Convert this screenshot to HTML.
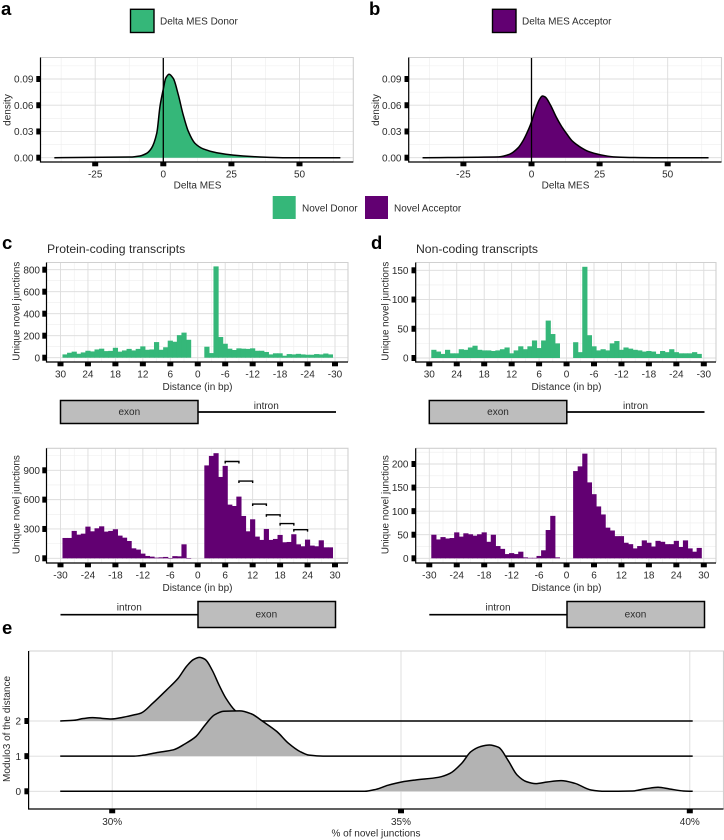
<!DOCTYPE html>
<html lang="en">
<head>
<meta charset="utf-8">
<title>Novel junction distance and MES figure</title>
<style>
  html, body { margin: 0; padding: 0; background: #fff; }
  #figure { display: block; width: 724px; height: 840px; font-family: "Liberation Sans", Arial, sans-serif; filter: blur(0.3px); }
  text { font-family: "Liberation Sans", Arial, sans-serif; fill: #2b2b2b; font-size: 10px; }
  .letter { font-size: 18.5px; font-weight: bold; fill: #000; }
  .title { font-size: 12.2px; }
</style>
</head>
<body>
<svg id="figure" xmlns="http://www.w3.org/2000/svg" width="724" height="840" viewBox="0 0 724 840">
  <rect x="0" y="0" width="724" height="840" fill="#fff"/>

  <text class="letter" x="1" y="15">a</text>
  <text class="letter" x="369" y="15">b</text>
  <text class="letter" x="2" y="249">c</text>
  <text class="letter" x="371" y="249">d</text>
  <text class="letter" x="2" y="634">e</text>

  <rect x="130.5" y="9.3" width="23.5" height="23.2" fill="#35b779" stroke="#000" stroke-width="1.4"/>
  <text x="160" y="24.5">Delta MES Donor</text>
  <rect x="492.5" y="9.3" width="23.5" height="23.2" fill="#620072" stroke="#000" stroke-width="1.4"/>
  <text x="522" y="24.5">Delta MES Acceptor</text>

  <rect x="272.7" y="196" width="23" height="23" fill="#35b779"/>
  <text x="302" y="211.5">Novel Donor</text>
  <rect x="365" y="196" width="23" height="23" fill="#620072"/>
  <text x="394" y="211.5">Novel Acceptor</text>

  <text class="title" x="47" y="253">Protein-coding transcripts</text>
  <text class="title" x="416" y="253">Non-coding transcripts</text>

  <g>
    <line x1="198" y1="412" x2="336" y2="412" stroke="#000" stroke-width="1.7"/>
    <rect x="60.5" y="400.5" width="137.5" height="23" fill="#bdbdbd" stroke="#000" stroke-width="1.5"/>
    <text x="129.3" y="415" text-anchor="middle">exon</text>
    <text x="266.3" y="409" text-anchor="middle">intron</text>
  </g>
  <g>
    <line x1="567" y1="412" x2="704.5" y2="412" stroke="#000" stroke-width="1.7"/>
    <rect x="429.3" y="400.5" width="137.5" height="23" fill="#bdbdbd" stroke="#000" stroke-width="1.5"/>
    <text x="498" y="415" text-anchor="middle">exon</text>
    <text x="635.5" y="409" text-anchor="middle">intron</text>
  </g>
  <g>
    <line x1="60.5" y1="614.7" x2="198" y2="614.7" stroke="#000" stroke-width="1.7"/>
    <rect x="198" y="601.5" width="137.5" height="26" fill="#bdbdbd" stroke="#000" stroke-width="1.5"/>
    <text x="129.3" y="610.5" text-anchor="middle">intron</text>
    <text x="266.3" y="617.5" text-anchor="middle">exon</text>
  </g>
  <g>
    <line x1="429.3" y1="614.7" x2="567" y2="614.7" stroke="#000" stroke-width="1.7"/>
    <rect x="567" y="601.5" width="137.5" height="26" fill="#bdbdbd" stroke="#000" stroke-width="1.5"/>
    <text x="498" y="610.5" text-anchor="middle">intron</text>
    <text x="635.5" y="617.5" text-anchor="middle">exon</text>
  </g>
</svg>

<script>
// ---------- Panel a / b data (Delta MES density) ----------
const donorMes = [-40, -12.2, -8.6, -6.1, -4.3, -2.4, -1.2, 0, 0.9, 2.1, 3.7, 5.5, 7.3, 9.2, 11.6, 14.7, 19.6, 25.7, 33, 37.9, 45, 65];
const donorDensity = [0, 0.0008, 0.002, 0.005, 0.011, 0.028, 0.059, 0.0785, 0.091, 0.0955, 0.0905, 0.072, 0.049, 0.03, 0.0165, 0.01, 0.0057, 0.003, 0.0012, 0.0005, 0, 0];
const acceptorMes = [-40, -12, -8, -5, -3, -1, 0, 1.5, 3, 4, 5, 7, 9, 11, 13, 15, 18, 21, 25, 30, 36, 45, 65];
const acceptorDensity = [0, 0.001, 0.004, 0.011, 0.02, 0.033, 0.041, 0.056, 0.067, 0.0705, 0.0695, 0.06, 0.047, 0.036, 0.027, 0.019, 0.012, 0.007, 0.0035, 0.001, 0.0003, 0, 0];
const mesTicks = [-25, 0, 25, 50];
const mesMinorTicks = [-37.5, -12.5, 12.5, 37.5, 62.5];
const densityTicks = [0, 0.03, 0.06, 0.09];
const densityTickLabels = ["0.00", "0.03", "0.06", "0.09"];
const densityMinorTicks = [0.015, 0.045, 0.075, 0.105];

// ---------- Panel c / d data (histograms) ----------
const donorDistances = [29, 28, 27, 26, 25, 24, 23, 22, 21, 20, 19, 18, 17, 16, 15, 14, 13, 12, 11, 10, 9, 8, 7, 6, 5, 4, 3, 2, -2, -3, -4, -5, -6, -7, -8, -9, -10, -11, -12, -13, -14, -15, -16, -17, -18, -19, -20, -21, -22, -23, -24, -25, -26, -27, -28, -29];
const acceptorDistances = [-29, -28, -27, -26, -25, -24, -23, -22, -21, -20, -19, -18, -17, -16, -15, -14, -13, -12, -11, -10, -9, -8, -7, -6, -5, -4, -3, -2, 2, 3, 4, 5, 6, 7, 8, 9, 10, 11, 12, 13, 14, 15, 16, 17, 18, 19, 20, 21, 22, 23, 24, 25, 26, 27, 28, 29];
const codingDonorCounts = [30, 45, 55, 36, 48, 63, 57, 75, 82, 60, 62, 90, 55, 66, 80, 66, 80, 103, 72, 75, 142, 72, 95, 155, 145, 205, 228, 163, 100, 42, 830, 188, 127, 82, 70, 85, 82, 80, 85, 63, 63, 52, 30, 40, 40, 18, 33, 30, 35, 30, 27, 27, 33, 30, 38, 30];
const noncodingDonorCounts = [14, 11, 7, 14, 8, 8, 15, 14, 18, 21, 14, 13, 13, 12, 13, 15, 18, 8, 13, 20, 15, 20, 30, 17, 30, 64, 41, 25, 27, 10, 156, 39, 20, 13, 15, 13, 25, 29, 14, 18, 16, 14, 13, 11, 12, 11, 7, 12, 10, 15, 10, 8, 8, 8, 10, 7];
const codingAcceptorCounts = [208, 208, 280, 242, 252, 324, 276, 307, 327, 273, 280, 297, 232, 211, 177, 102, 89, 48, 24, 17, 7, 10, 14, 3, 22, 20, 143, 3, 950, 1047, 1075, 832, 945, 549, 535, 631, 433, 276, 399, 222, 188, 300, 188, 198, 239, 164, 167, 246, 143, 123, 191, 130, 123, 184, 112, 112];
const noncodingAcceptorCounts = [50, 40, 45, 42, 43, 55, 46, 53, 51, 48, 51, 55, 35, 50, 26, 20, 9, 11, 9, 14, 2, 1, 1, 5, 17, 60, 90, 2, 185, 195, 222, 161, 136, 110, 93, 65, 59, 47, 47, 33, 30, 21, 26, 38, 33, 25, 37, 35, 30, 30, 37, 24, 38, 21, 14, 22];
const donorDistanceTicks = [30, 24, 18, 12, 6, 0, -6, -12, -18, -24, -30];
const acceptorDistanceTicks = [-30, -24, -18, -12, -6, 0, 6, 12, 18, 24, 30];
const distanceMinorTicks = [27, 21, 15, 9, 3, -3, -9, -15, -21, -27];
const codingDonorTicks = [0, 200, 400, 600, 800];
const codingDonorMinorTicks = [100, 300, 500, 700];
const noncodingDonorTicks = [0, 50, 100, 150];
const noncodingDonorMinorTicks = [25, 75, 125];
const codingAcceptorTicks = [0, 300, 600, 900];
const codingAcceptorMinorTicks = [150, 450, 750, 1050];
const noncodingAcceptorTicks = [0, 50, 100, 150, 200];
const noncodingAcceptorMinorTicks = [25, 75, 125, 175, 225];
const bracketStarts = [6, 9, 12, 15, 18, 21];
const bracketEnds = [9, 12, 15, 18, 21, 24];
const bracketHeights = [990, 790, 555, 445, 355, 293];

// ---------- Panel e data (ridgeline) ----------
const ridge2Percent = [29.1, 29.34, 29.5, 29.66, 29.82, 29.98, 30.18, 30.34, 30.5, 30.7, 30.94, 31.14, 31.29, 31.41, 31.51, 31.61, 31.73, 31.85, 31.97, 32.13, 32.29, 32.49, 32.69, 40.05];
const ridge2Density = [0, 0.02, 0.07, 0.095, 0.076, 0.057, 0.104, 0.161, 0.227, 0.502, 0.881, 1.212, 1.562, 1.752, 1.809, 1.752, 1.449, 1.023, 0.644, 0.294, 0.104, 0.019, 0, 0];
const ridge1Percent = [29.1, 30.38, 30.54, 30.78, 31.06, 31.26, 31.45, 31.61, 31.77, 31.93, 32.21, 32.41, 32.61, 32.85, 33.05, 33.25, 33.41, 33.65, 40.05];
const ridge1Density = [0, 0, 0.028, 0.104, 0.18, 0.35, 0.559, 0.89, 1.174, 1.278, 1.288, 1.203, 0.985, 0.701, 0.369, 0.133, 0.028, 0, 0];
const ridge0Percent = [29.1, 34.37, 34.57, 34.77, 35.01, 35.25, 35.65, 35.85, 36.05, 36.21, 36.37, 36.53, 36.69, 36.85, 37.01, 37.17, 37.33, 37.53, 37.77, 38.01, 38.29, 38.53, 39.01, 39.25, 39.45, 39.65, 39.89, 40.05];
const ridge0Density = [0, 0, 0.057, 0.17, 0.265, 0.322, 0.398, 0.511, 0.795, 1.127, 1.269, 1.316, 1.25, 0.89, 0.464, 0.275, 0.218, 0.265, 0.303, 0.227, 0.038, 0, 0.01, 0.076, 0.114, 0.066, 0.01, 0];
const percentTicks = [30, 35, 40];
const percentTickLabels = ["30%", "35%", "40%"];
const percentMinorTicks = [32.5, 37.5];
const moduloTicks = [0, 1, 2];

// ---------- Helpers ----------
const SVG_NS = "http://www.w3.org/2000/svg";
const figure = document.getElementById("figure");
const GREEN = "#35b779";
const PURPLE = "#620072";
const GREY = "#b3b3b3";

function make(tag, attrs, parent) {
  const node = document.createElementNS(SVG_NS, tag);
  for (const key in attrs) node.setAttribute(key, attrs[key]);
  (parent || figure).appendChild(node);
  return node;
}
function linear(d0, d1, r0, r1) {
  return function (v) { return r0 + (v - d0) * (r1 - r0) / (d1 - d0); };
}
// Monotone cubic path through (px[i], py[i])
function monotonePath(px, py) {
  const n = px.length;
  const s = [], m = [];
  for (let i = 0; i < n - 1; i++) s.push((py[i + 1] - py[i]) / (px[i + 1] - px[i]));
  m.push(s[0]);
  for (let i = 1; i < n - 1; i++) {
    m.push(s[i - 1] * s[i] <= 0 ? 0 : 2 * s[i - 1] * s[i] / (s[i - 1] + s[i]));
  }
  m.push(s[n - 2]);
  let d = "M" + px[0].toFixed(2) + "," + py[0].toFixed(2);
  for (let i = 0; i < n - 1; i++) {
    const h = (px[i + 1] - px[i]) / 3;
    d += "C" + (px[i] + h).toFixed(2) + "," + (py[i] + m[i] * h).toFixed(2) + " " +
         (px[i + 1] - h).toFixed(2) + "," + (py[i + 1] - m[i + 1] * h).toFixed(2) + " " +
         px[i + 1].toFixed(2) + "," + py[i + 1].toFixed(2);
  }
  return d;
}
function gridAndFrame(group, box, x, y, xMajor, xMinor, yMajor, yMinor) {
  xMinor.forEach(function (v) {
    const line = make("line", { x1: x(v), x2: x(v), y1: box.top, y2: box.bottom, stroke: "#eeeeee", "stroke-width": 0.6 }, group);
    
    
  });
  yMinor.forEach(function (v) {
    const line = make("line", { x1: box.left, x2: box.right, y1: y(v), y2: y(v), stroke: "#eeeeee", "stroke-width": 0.6 }, group);
    
    
  });
  xMajor.forEach(function (v) {
    const line = make("line", { x1: x(v), x2: x(v), y1: box.top, y2: box.bottom, stroke: "#dcdcdc", "stroke-width": 0.9 }, group);
    
    
  });
  yMajor.forEach(function (v) {
    const line = make("line", { x1: box.left, x2: box.right, y1: y(v), y2: y(v), stroke: "#dcdcdc", "stroke-width": 0.9 }, group);
    
    
  });
}
function axesOnTop(group, box, x, y, xMajor, xLabels, yMajor, yLabels, xLabelY, yLabelX) {
  const border = make("path", { d: "M" + box.left + "," + box.top + "H" + box.right + "V" + box.bottom, fill: "none", stroke: "#d0d0d0", "stroke-width": 1.1 }, group);
  
  
  const axisLine = make("path", { d: "M" + box.left + "," + box.top + "V" + box.bottom + "H" + box.right, fill: "none", stroke: "#000", "stroke-width": 1.2 }, group);
  
  
  xMajor.forEach(function (v, i) {
    const tick = make("rect", { x: x(v) - 3, y: box.bottom + 0.3, width: 6, height: 4, fill: "#000" }, group);
    
    
    const label = make("text", { x: x(v), y: xLabelY, "text-anchor": "middle" }, group);
    label.textContent = xLabels[i];
    
    
  });
  yMajor.forEach(function (v, i) {
    const tick = make("rect", { x: box.left - 4.2, y: y(v) - 3, width: 4, height: 6, fill: "#000" }, group);
    
    
    const label = make("text", { x: yLabelX, y: y(v) + 3.6, "text-anchor": "end" }, group);
    label.textContent = yLabels[i];
    
    
  });
}
function axisTitles(group, xTitle, xCenter, xBaseline, yTitle, yBaseline, yCenter, yLength) {
  const xt = make("text", { x: xCenter, y: xBaseline, "text-anchor": "middle" }, group);
  xt.textContent = xTitle;
  
  
  const attrs = { x: 0, y: 0, "text-anchor": "middle", transform: "translate(" + yBaseline + "," + yCenter + ") rotate(-90)" };
  if (yLength) { attrs.textLength = yLength; attrs.lengthAdjust = "spacingAndGlyphs"; }
  const yt = make("text", attrs, group);
  yt.textContent = yTitle;
  
  
}

// ---------- Density panels (a, b) ----------
function drawDensity(panelName, mes, density, color, x0Pixel, titleCenter, yTitleX, labelRight) {
  const group = make("g", {});
  
  
  const box = { left: x0Pixel - 122.8, right: x0Pixel + 190, top: 57.5, bottom: 162 };
  const x = linear(0, 50, x0Pixel, x0Pixel + 136.2);
  const y = linear(0, 0.09, 157.7, 79);
  gridAndFrame(group, box, x, y, mesTicks, mesMinorTicks, densityTicks, densityMinorTicks);
  const px = mes.map(x), py = density.map(y);
  const curve = monotonePath(px, py);
  const area = make("path", { d: curve + "L" + px[px.length - 1] + "," + y(0) + "L" + px[0] + "," + y(0) + "Z", fill: color }, group);
  
  
  const line = make("path", { d: curve, fill: "none", stroke: "#000", "stroke-width": 1.5 }, group);
  
  
  const zero = make("line", { x1: x(0), x2: x(0), y1: box.top, y2: box.bottom, stroke: "#000", "stroke-width": 1.3 }, group);
  
  
  axesOnTop(group, box, x, y, mesTicks, mesTicks.map(String), densityTicks, densityTickLabels, 177.5, labelRight);
  axisTitles(group, "Delta MES", titleCenter, 188.5, "density", yTitleX, 110);
}
drawDensity("panel-a-donor-density", donorMes, donorDensity, GREEN, 163.3, 197.5, 10.7, 33.5);
drawDensity("panel-b-acceptor-density", acceptorMes, acceptorDensity, PURPLE, 531.5, 565.5, 379, 401.5);

// ---------- Histogram panels (c, d) ----------
function drawHistogram(panelName, cfg) {
  const group = make("g", {});
  
  
  const box = cfg.box;
  const x = linear(cfg.xTicks[0], cfg.xTicks[cfg.xTicks.length - 1], cfg.x0, cfg.x1);
  const y = linear(0, cfg.yRef, cfg.y0, cfg.yRefPixel);
  const minorX = cfg.xTicks[0] > 0 ? distanceMinorTicks : distanceMinorTicks.slice().reverse();
  gridAndFrame(group, box, x, y, cfg.xTicks, minorX, cfg.yTicks, cfg.yMinor);
  cfg.distances.forEach(function (d, i) {
    const xa = x(d - 0.5), xb = x(d + 0.5);
    const bar = make("rect", {
      x: Math.min(xa, xb) - 0.3,
      y: y(cfg.counts[i]),
      width: Math.abs(xb - xa) + 0.6,
      height: Math.max(0.5, y(0) - y(cfg.counts[i])),
      fill: cfg.color
    }, group);
    
    
  });
  if (cfg.brackets) {
    bracketStarts.forEach(function (s, i) {
      const top = y(bracketHeights[i]);
      const bracket = make("path", {
        d: "M" + x(s) + "," + (top + 2) + "V" + top + "H" + x(bracketEnds[i]) + "V" + (top + 2),
        fill: "none", stroke: "#000", "stroke-width": 1.4
      }, group);
      
      
    });
  }
  axesOnTop(group, box, x, y, cfg.xTicks, cfg.xTicks.map(String), cfg.yTicks, cfg.yTicks.map(String), cfg.xLabelY, cfg.yLabelX);
  axisTitles(group, "Distance (in bp)", cfg.titleCenter, cfg.titleY, "Unique novel junctions", cfg.yTitleX, (box.top + box.bottom) / 2 - 1, 99);
}
const topBoxC = { left: 46.5, right: 348, top: 262.5, bottom: 362 };
const topBoxD = { left: 415.7, right: 716, top: 262.5, bottom: 362 };
const lowBoxC = { left: 46.5, right: 348, top: 448.3, bottom: 563 };
const lowBoxD = { left: 415.7, right: 716, top: 448.3, bottom: 563 };

drawHistogram("panel-c-donor-histogram", {
  box: topBoxC, x0: 60.5, x1: 335, y0: 357.7, yRef: 800, yRefPixel: 269.7,
  xTicks: donorDistanceTicks, yTicks: codingDonorTicks, yMinor: codingDonorMinorTicks,
  distances: donorDistances, counts: codingDonorCounts, color: GREEN,
  xLabelY: 377.7, titleY: 390, titleCenter: 197.5, yLabelX: 40, yTitleX: 19.5
});
drawHistogram("panel-d-donor-histogram", {
  box: topBoxD, x0: 429.3, x1: 703.8, y0: 358, yRef: 150, yRefPixel: 270.3,
  xTicks: donorDistanceTicks, yTicks: noncodingDonorTicks, yMinor: noncodingDonorMinorTicks,
  distances: donorDistances, counts: noncodingDonorCounts, color: GREEN,
  xLabelY: 377.7, titleY: 390, titleCenter: 566.5, yLabelX: 408.5, yTitleX: 388.3
});
drawHistogram("panel-c-acceptor-histogram", {
  box: lowBoxC, x0: 60.5, x1: 335, y0: 558.3, yRef: 900, yRefPixel: 470.3,
  xTicks: acceptorDistanceTicks, yTicks: codingAcceptorTicks, yMinor: codingAcceptorMinorTicks,
  distances: acceptorDistances, counts: codingAcceptorCounts, color: PURPLE, brackets: true,
  xLabelY: 578.3, titleY: 591, titleCenter: 197.5, yLabelX: 40, yTitleX: 19.5
});
drawHistogram("panel-d-acceptor-histogram", {
  box: lowBoxD, x0: 429.3, x1: 703.8, y0: 558.3, yRef: 200, yRefPixel: 464,
  xTicks: acceptorDistanceTicks, yTicks: noncodingAcceptorTicks, yMinor: noncodingAcceptorMinorTicks,
  distances: acceptorDistances, counts: noncodingAcceptorCounts, color: PURPLE,
  xLabelY: 578.3, titleY: 591, titleCenter: 566.5, yLabelX: 408.5, yTitleX: 388.3
});

// ---------- Ridgeline panel (e) ----------
(function drawRidges() {
  const group = make("g", {});
  
  
  const box = { left: 28.6, right: 723.5, top: 651, bottom: 809 };
  const x = linear(30, 40, 112.2, 689.8);
  const y = linear(0, 2, 791.3, 721);
  gridAndFrame(group, box, x, y, percentTicks, percentMinorTicks, moduloTicks, []);
  const rows = [
    { row: 2, pct: ridge2Percent, den: ridge2Density },
    { row: 1, pct: ridge1Percent, den: ridge1Density },
    { row: 0, pct: ridge0Percent, den: ridge0Density }
  ];
  rows.forEach(function (r) {
    const px = r.pct.map(x);
    const py = r.den.map(function (d) { return y(r.row + d); });
    const curve = monotonePath(px, py);
    const area = make("path", { d: curve + "L" + px[px.length - 1] + "," + y(r.row) + "L" + px[0] + "," + y(r.row) + "Z", fill: GREY }, group);
    
    
    const line = make("path", { d: curve, fill: "none", stroke: "#000", "stroke-width": 1.5 }, group);
    
    
  });
  axesOnTop(group, box, x, y, percentTicks, percentTickLabels, moduloTicks, moduloTicks.map(String), 825, 21);
  axisTitles(group, "% of novel junctions", 376, 836.5, "Modulo3 of the distance", 10, 729, 106);
})();
</script>
</body>
</html>
